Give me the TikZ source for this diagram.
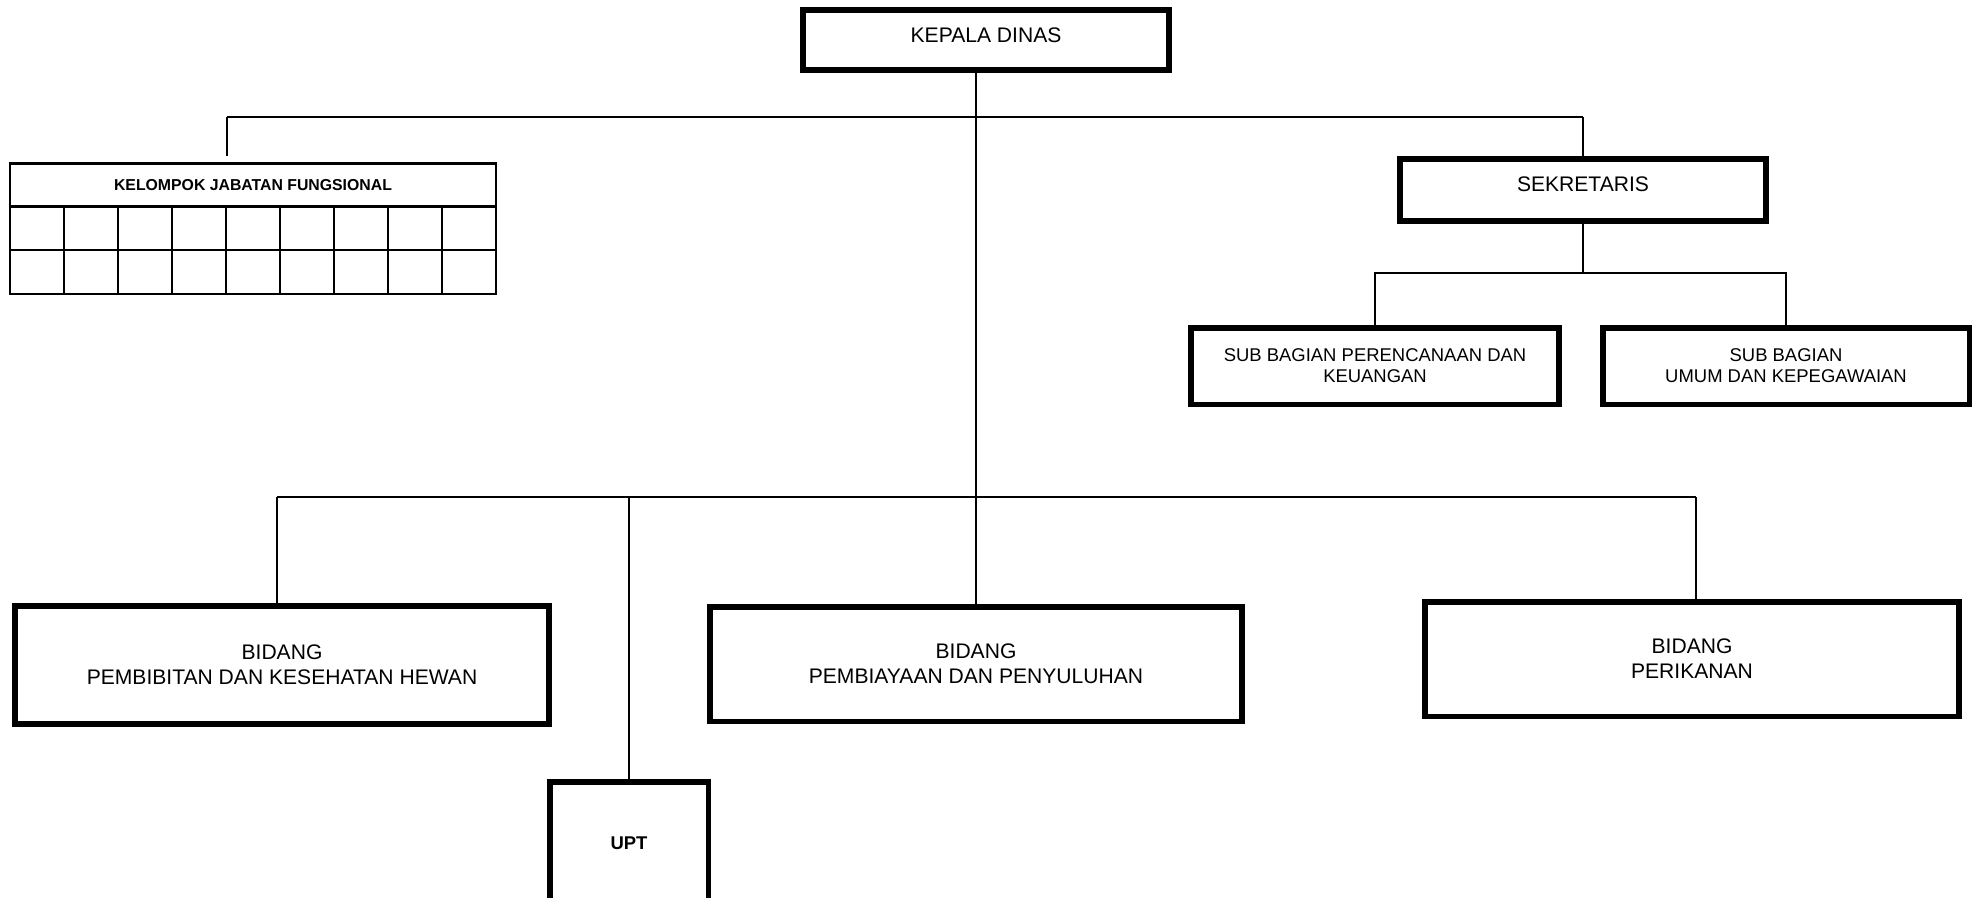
\documentclass[tikz,border=0pt]{standalone}
\usepackage{fontspec}
\setmainfont{Liberation Sans}
\usetikzlibrary{positioning,calc}

\begin{document}
\begin{tikzpicture}[x=0.02cm, y=-0.02cm, line width=1.6pt,
    box/.style={draw, line width=3.4pt, align=center, inner sep=0pt,
        font=\fontsize{12}{14.2}\selectfont},
    subbox/.style={box, font=\fontsize{10.5}{12}\selectfont},
    cell/.style={draw, line width=1.2pt}]
    \useasboundingbox (0,0) rectangle (1973,897);

    % Pimpinan
    \node [box, minimum width=7.32cm, minimum height=1.2cm, text depth=0.2cm] (kepala) at (986,40) {KEPALA DINAS};
    \node [box, minimum width=7.32cm, minimum height=1.24cm, text depth=0.24cm] (sekretaris) at (1583,190) {SEKRETARIS};

    % Sub bagian
    \node [subbox, minimum width=7.36cm, minimum height=1.54cm] (subrenc) at (1375,366) {SUB BAGIAN PERENCANAAN DAN\\KEUANGAN};
    \node [subbox, minimum width=7.34cm, minimum height=1.54cm] (subumum) at (1786,366) {SUB BAGIAN\\UMUM DAN KEPEGAWAIAN};

    % Kelompok jabatan fungsional
    \node [cell, minimum width=9.72cm, minimum height=0.86cm, inner sep=0pt,
        font=\bfseries\fontsize{9}{11}\selectfont] (kjf) at (253,185) {KELOMPOK JABATAN FUNGSIONAL};
    \foreach \i in {0,...,8}
        \foreach \j in {0,1}
            \draw [cell] ({10+54*\i},{206+44*\j}) rectangle ++(54,44);

    % Bidang
    \node [box, minimum width=10.7cm, minimum height=2.36cm] (bidang1) at (282,665) {BIDANG\\PEMBIBITAN DAN KESEHATAN HEWAN};
    \node [box, minimum width=10.64cm, minimum height=2.3cm] (bidang2) at (976,664) {BIDANG\\PEMBIAYAAN DAN PENYULUHAN};
    \node [box, minimum width=10.68cm, minimum height=2.3cm] (bidang3) at (1692,659) {BIDANG\\PERIKANAN};
    \node [box, minimum width=3.18cm, minimum height=2.44cm, font=\bfseries\fontsize{10.5}{12}\selectfont] (upt) at (629,843) {UPT};

    % Garis atas
    \coordinate (top) at (976,117);
    \coordinate (topL) at (227,117);
    \coordinate (topR) at (1583,117);
    \coordinate (kjfend) at (227,156);
    \draw (kepala.south -| top) -- (top);
    \draw (topL) -- (topR);
    \draw (topL) -- (kjfend);
    \draw (topR) -- (sekretaris.north);

    % Sekretariat
    \coordinate (sek) at (1583,273);
    \draw (sekretaris.south) -- (sek);
    \draw (subrenc.north) |- (sek) -| (subumum.north);

    % Garis bidang
    \coordinate (busL) at (277,497);
    \coordinate (busU) at (629,497);
    \coordinate (busR) at (1696,497);
    \draw (top) -- (top |- bidang2.north);
    \draw (busL) -- (busR);
    \draw (busL) -- (busL |- bidang1.north);
    \draw (busU) -- (upt.north);
    \draw (busR) -- (busR |- bidang3.north);
\end{tikzpicture}
\end{document}
